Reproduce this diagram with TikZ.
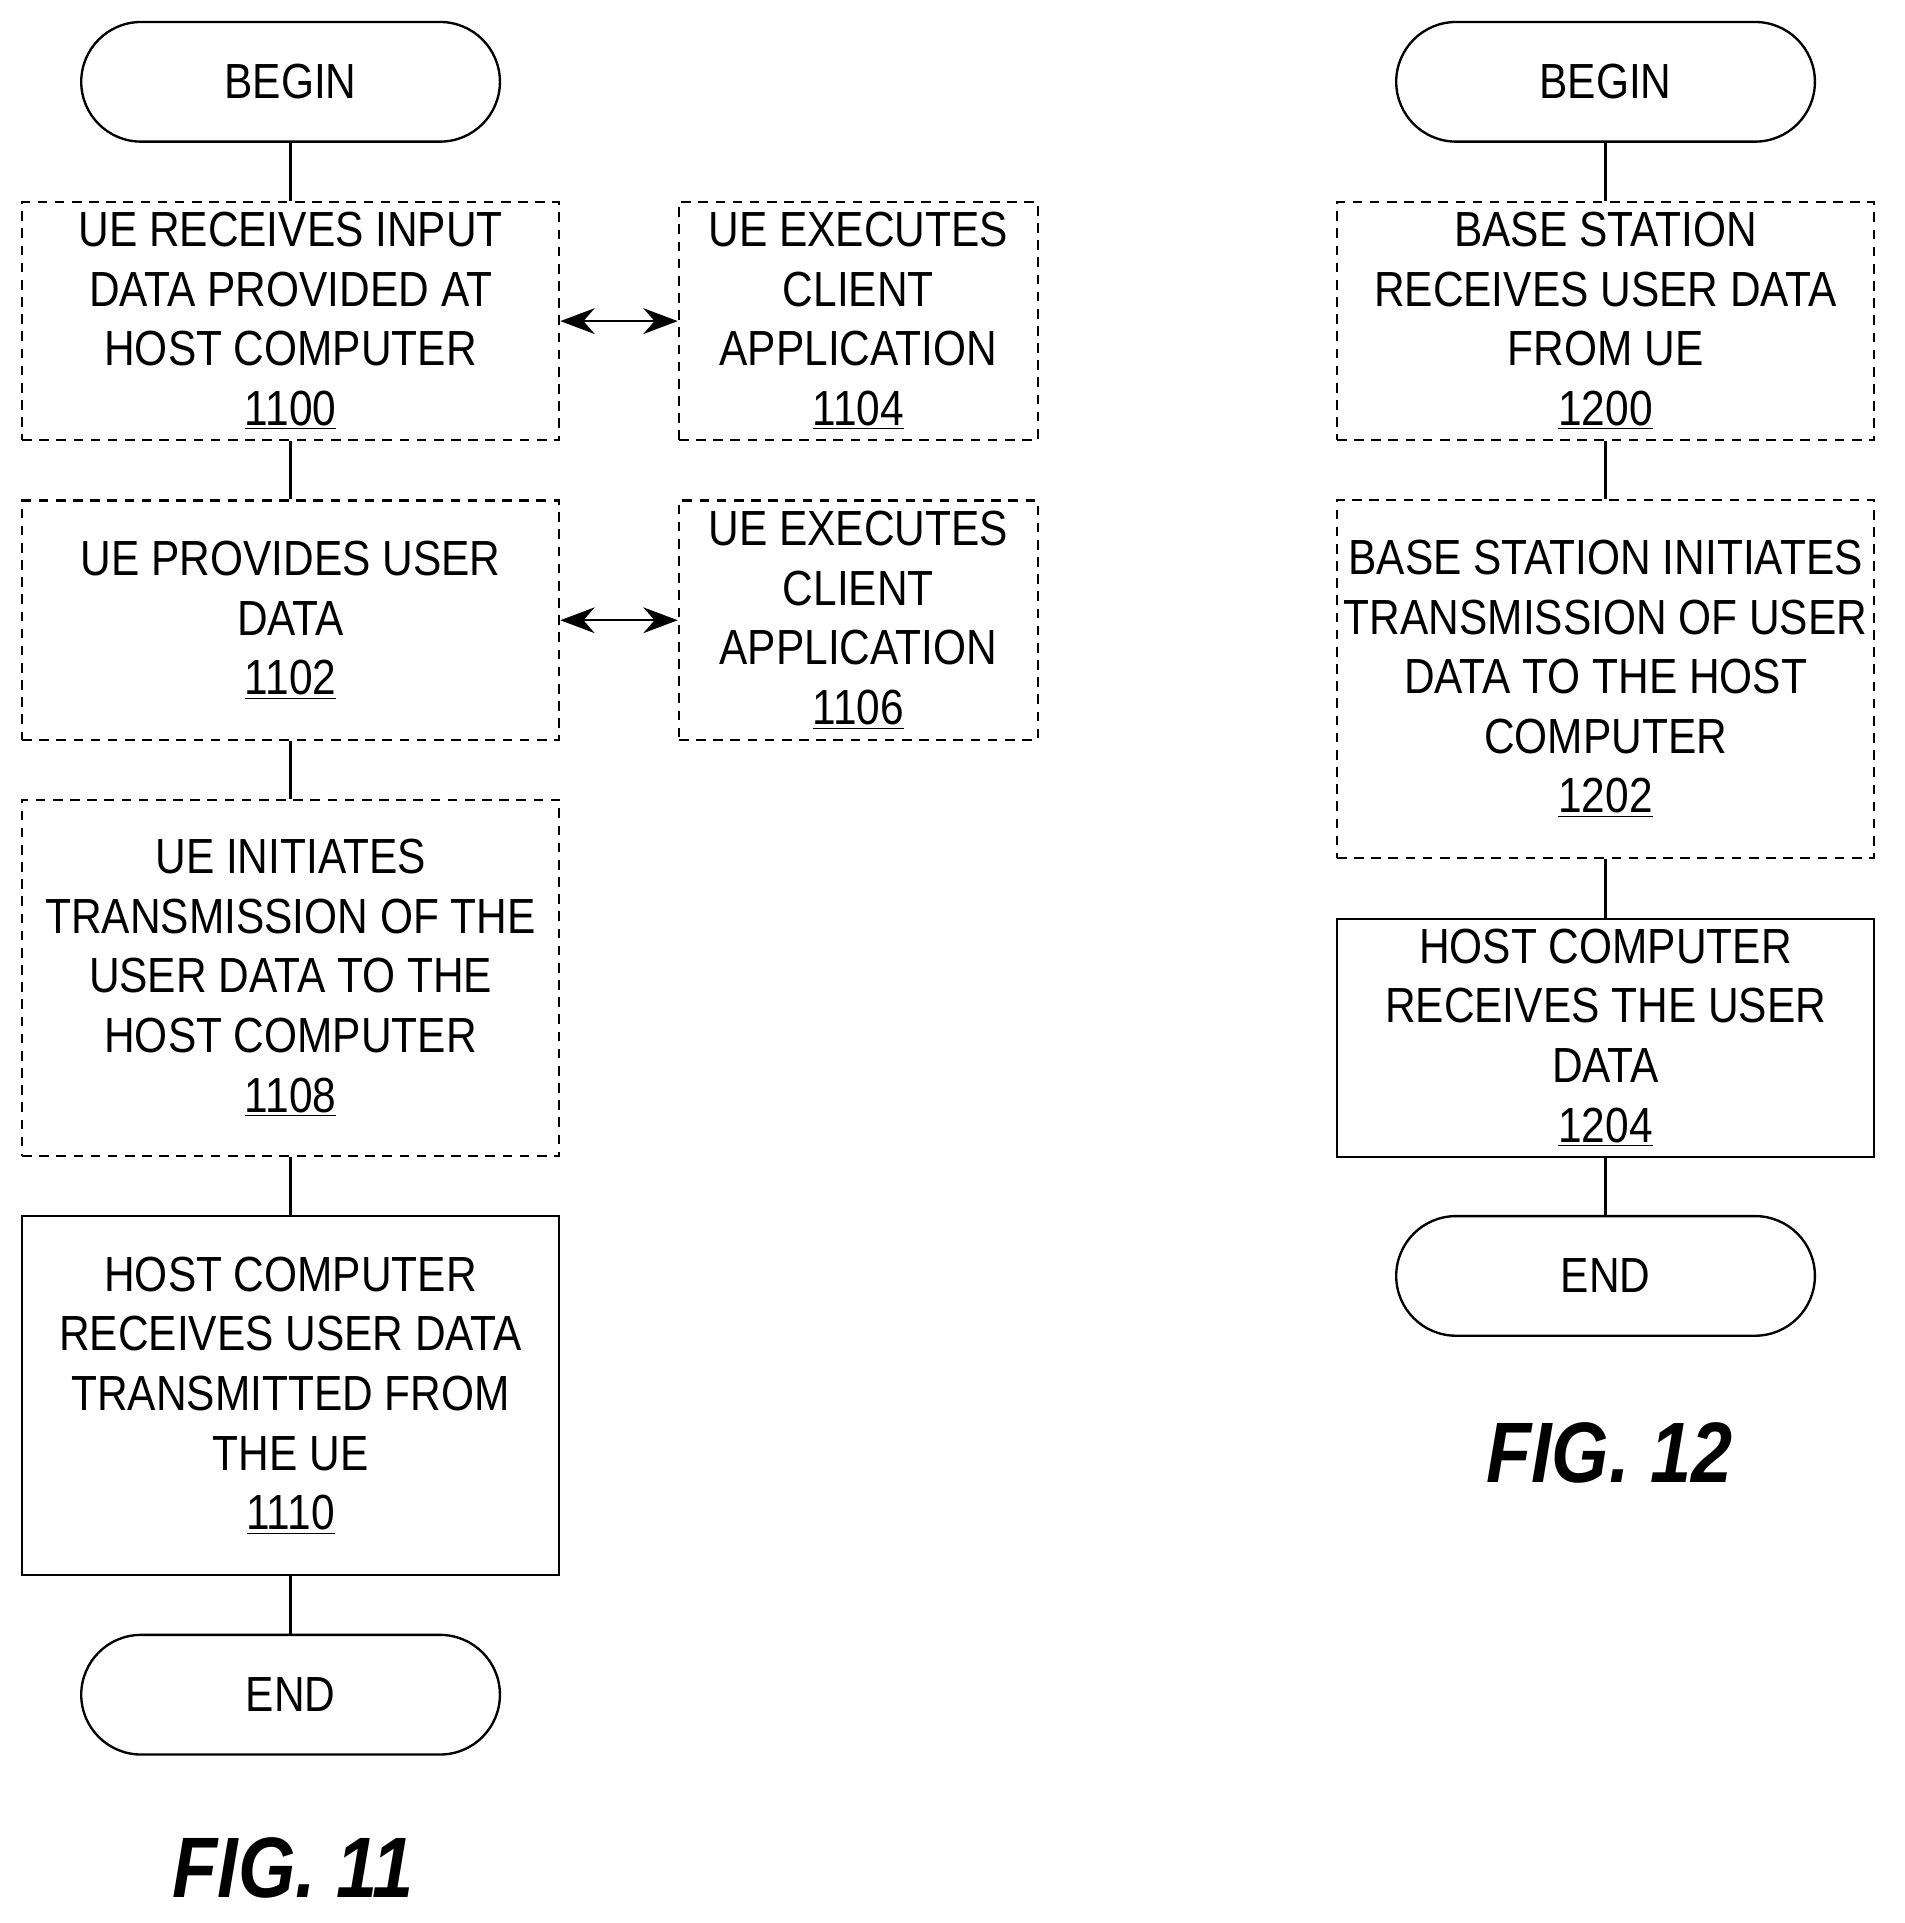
\documentclass[tikz,border=0pt]{standalone}
\usepackage{fontspec}
\setmainfont{Liberation Sans}[FakeStretch=0.86]
\usetikzlibrary{arrows.meta}
\begin{document}
\begin{tikzpicture}[x=0.02cm,y=-0.02cm,
  every node/.style={font=\fontsize{23}{27.8}\selectfont, align=center, line width=1.1pt, inner sep=0pt},
  box/.style={draw, minimum width=8.8cm},
  dbox/.style={box, dash pattern=on 4.5pt off 3.5pt},
  term/.style={draw, rounded corners=0.98cm, minimum width=6.86cm, minimum height=1.96cm},
  line/.style={line width=1.1pt},
  dbl/.style={line width=1.1pt, {Stealth[length=16pt,width=12pt]}-{Stealth[length=16pt,width=12pt]}}]
\useasboundingbox (0,0) rectangle (1560,1575);
% FIG 11
\node[term] (b1) at (238,67) {BEGIN};
\node[dbox, minimum height=3.9cm] (n1100) at (238,263) {UE RECEIVES INPUT\\DATA PROVIDED AT\\HOST COMPUTER\\\underline{1100}};
\node[dbox, minimum width=5.88cm, minimum height=3.9cm] (n1104) at (703,263) {UE EXECUTES\\CLIENT\\APPLICATION\\\underline{1104}};
\node[dbox, minimum height=3.92cm] (n1102) at (238,508) {UE PROVIDES USER\\DATA\\\underline{1102}};
\node[dbox, minimum width=5.88cm, minimum height=3.92cm] (n1106) at (703,508) {UE EXECUTES\\CLIENT\\APPLICATION\\\underline{1106}};
\node[dbox, minimum height=5.84cm] (n1108) at (238,801) {UE INITIATES\\TRANSMISSION OF THE\\USER DATA TO THE\\HOST COMPUTER\\\underline{1108}};
\node[box, minimum height=5.88cm] (n1110) at (238,1143) {HOST COMPUTER\\RECEIVES USER DATA\\TRANSMITTED FROM\\THE UE\\\underline{1110}};
\node[term] (e1) at (238,1388) {END};
\node[font=\bfseries\itshape\fontsize{40}{44}\selectfont] (f11) at (240,1530) {FIG. 11};
\draw[line] (b1) -- (n1100);
\draw[line] (n1100) -- (n1102);
\draw[line] (n1102) -- (n1108);
\draw[line] (n1108) -- (n1110);
\draw[line] (n1110) -- (e1);
\draw[dbl] (n1100) -- (n1104);
\draw[dbl] (n1102) -- (n1106);
% FIG 12
\node[term] (b2) at (1315,67) {BEGIN};
\node[dbox, minimum height=3.9cm] (n1200) at (1315,263) {BASE STATION\\RECEIVES USER DATA\\FROM UE\\\underline{1200}};
\node[dbox, minimum height=5.86cm] (n1202) at (1315,556) {BASE STATION INITIATES\\TRANSMISSION OF USER\\DATA TO THE HOST\\COMPUTER\\\underline{1202}};
\node[box, minimum height=3.9cm] (n1204) at (1315,850) {HOST COMPUTER\\RECEIVES THE USER\\DATA\\\underline{1204}};
\node[term] (e2) at (1315,1045) {END};
\node[font=\bfseries\itshape\fontsize{40}{44}\selectfont] (f12) at (1318,1190) {FIG. 12};
\draw[line] (b2) -- (n1200);
\draw[line] (n1200) -- (n1202);
\draw[line] (n1202) -- (n1204);
\draw[line] (n1204) -- (e2);
\end{tikzpicture}
\end{document}
